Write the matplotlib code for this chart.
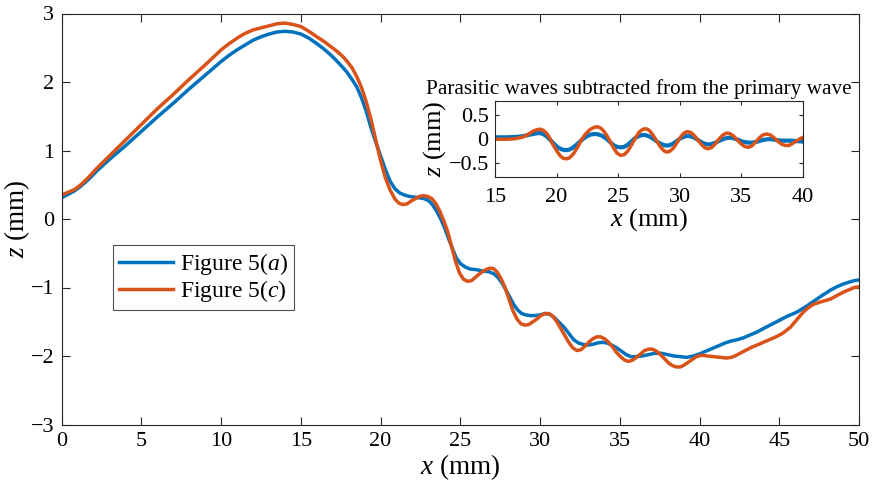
import matplotlib
matplotlib.use("Agg")
import matplotlib.pyplot as plt

plt.rcParams['font.family'] = ['Liberation Serif', 'DejaVu Serif']
plt.rcParams['mathtext.fontset'] = 'custom'
plt.rcParams['mathtext.rm'] = 'Liberation Serif'
plt.rcParams['mathtext.it'] = 'Liberation Serif:italic'
plt.rcParams['axes.unicode_minus'] = True

# ---- main curves (x in mm, z in mm) ----
x_a = [0, 0.4, 0.8, 1.2, 1.65, 2.2, 2.9, 4.0, 5.0, 6.0, 7.0, 8.0, 9.0, 10.0, 10.5, 11.0, 11.5,
       12.0, 12.5, 13.0, 13.5, 14.0, 14.5, 15.0, 15.5, 16.0, 16.4, 16.8, 17.2, 17.6, 17.9, 18.2,
       18.5, 18.8, 19.1, 19.4, 19.7,
       20.0, 20.3, 20.6, 20.9, 21.2, 21.5, 21.8, 22.1, 22.4, 22.7, 23.0, 23.25, 23.5, 23.75, 24.0,
       24.25, 24.5, 24.75, 25.0, 25.3, 25.6, 26.0, 26.4, 26.8, 27.1, 27.35, 27.6, 27.85, 28.1,
       28.35, 28.6, 28.85, 29.1, 29.4, 29.7, 30.0, 30.3, 30.6, 30.9, 31.2, 31.5, 31.8, 32.1, 32.4,
       32.7, 33.0, 33.3, 33.6, 33.9, 34.2, 34.5, 34.8, 35.1, 35.4, 35.7, 36.0, 36.4, 36.8, 37.2,
       37.6, 38.0, 38.4, 38.8, 39.2, 39.6, 40.0, 40.4, 40.8, 41.2, 41.6, 42.0, 42.4, 42.8, 43.2,
       43.6, 44.0, 44.5, 45.0, 45.5, 46.1, 46.6, 47.1, 47.6, 48.2, 48.6, 49.0, 49.4, 49.7, 50.0]
z_a = [0.31, 0.36, 0.41, 0.48, 0.57, 0.70, 0.85, 1.07, 1.28, 1.49, 1.69, 1.90, 2.10, 2.30, 2.39, 2.47, 2.54,
       2.61, 2.66, 2.70, 2.73, 2.74, 2.73, 2.70, 2.64, 2.56, 2.49, 2.41, 2.32, 2.22, 2.14, 2.04,
       1.93, 1.77, 1.57, 1.33, 1.12,
       0.92, 0.72, 0.55, 0.44, 0.38, 0.35, 0.33, 0.32, 0.31, 0.30, 0.27, 0.21, 0.12, 0.01, -0.12,
       -0.28, -0.43, -0.57, -0.65, -0.70, -0.73, -0.74, -0.76, -0.77, -0.80, -0.85, -0.93, -1.03, -1.14,
       -1.25, -1.33, -1.38, -1.40, -1.41, -1.41, -1.40, -1.38, -1.39, -1.44, -1.51, -1.58, -1.67, -1.76, -1.81,
       -1.83, -1.84, -1.83, -1.81, -1.80, -1.81, -1.84, -1.88, -1.93, -1.98, -2.01, -2.01, -2.00, -1.98, -1.96,
       -1.96, -1.98, -2.00, -2.01, -2.02, -2.00, -1.97, -1.93, -1.89, -1.85, -1.81, -1.78, -1.76, -1.73, -1.69,
       -1.65, -1.60, -1.54, -1.48, -1.42, -1.36, -1.29, -1.21, -1.13, -1.04, -0.99, -0.95, -0.92, -0.90, -0.89]

x_c = [0, 0.4, 0.8, 1.2, 1.65, 2.2, 2.9, 4.0, 5.0, 6.0, 7.0, 8.0, 9.0, 10.0, 10.5, 11.0, 11.5,
       12.0, 12.5, 13.0, 13.5, 14.0, 14.5, 15.0, 15.5, 16.0, 16.4, 16.8, 17.2, 17.6, 17.9, 18.2,
       18.5, 18.8, 19.1, 19.4, 19.7,
       20.0, 20.3, 20.6, 20.9, 21.15, 21.4, 21.65, 21.9, 22.2, 22.45, 22.7, 22.95, 23.2, 23.45,
       23.7, 23.95, 24.2, 24.45, 24.7, 24.95, 25.2, 25.45, 25.7, 25.95, 26.2, 26.5, 26.8, 27.05,
       27.3, 27.55, 27.8, 28.05, 28.3, 28.55, 28.8, 29.05, 29.3, 29.55, 29.8, 30.05, 30.3, 30.55,
       30.8, 31.05, 31.3, 31.55, 31.8, 32.05, 32.3, 32.55, 32.8, 33.05, 33.3, 33.55, 33.8, 34.05,
       34.3, 34.55, 34.8, 35.05, 35.3, 35.55, 35.8, 36.05, 36.3, 36.55, 36.8, 37.05, 37.3, 37.55,
       37.8, 38.05, 38.3, 38.55, 38.8, 39.05, 39.3, 39.55, 39.8, 40.1, 40.5, 40.9, 41.3, 41.7,
       42.0, 42.3, 42.7, 43.2, 43.6, 44.0, 44.4, 44.8, 45.2, 45.7, 46.1, 46.5, 46.8, 47.1, 47.6,
       48.2, 48.6, 49.0, 49.4, 49.7, 50.0]
z_c = [0.35, 0.39, 0.43, 0.50, 0.60, 0.74, 0.90, 1.15, 1.38, 1.61, 1.82, 2.04, 2.25, 2.47, 2.56, 2.64, 2.71,
       2.76, 2.79, 2.82, 2.85, 2.86, 2.84, 2.81, 2.74, 2.66, 2.60, 2.53, 2.46, 2.38, 2.30, 2.21,
       2.08, 1.92, 1.71, 1.45, 1.15,
       0.85, 0.60, 0.42, 0.29, 0.23, 0.21, 0.22, 0.26, 0.30, 0.33, 0.34, 0.33, 0.30, 0.23,
       0.12, -0.02, -0.18, -0.40, -0.62, -0.79, -0.88, -0.91, -0.90, -0.85, -0.80, -0.75, -0.72, -0.72,
       -0.77, -0.87, -1.00, -1.17, -1.34, -1.46, -1.53, -1.55, -1.54, -1.50, -1.46, -1.41, -1.38, -1.38,
       -1.42, -1.50, -1.60, -1.70, -1.80, -1.88, -1.92, -1.91, -1.86, -1.80, -1.75, -1.72, -1.72, -1.75,
       -1.80, -1.87, -1.95, -2.01, -2.06, -2.08, -2.06, -2.02, -1.97, -1.92, -1.90, -1.90, -1.93, -1.98,
       -2.04, -2.10, -2.14, -2.16, -2.16, -2.13, -2.09, -2.05, -2.01, -1.99, -2.00, -2.01, -2.02, -2.03,
       -2.02, -1.99, -1.94, -1.88, -1.84, -1.80, -1.76, -1.72, -1.67, -1.58, -1.47, -1.36, -1.30, -1.25, -1.21,
       -1.17, -1.12, -1.07, -1.03, -1.00, -0.99]

# ---- inset: parasitic waves ----
xi_a = [15.0, 16.0, 16.8, 17.4, 17.9, 18.3, 18.6, 18.9, 19.2, 19.5, 19.8, 20.1, 20.4, 20.7, 21.0,
        21.3, 21.6, 21.9, 22.2, 22.5, 22.8, 23.1, 23.4, 23.7, 24.0, 24.3, 24.6, 24.9, 25.2, 25.5,
        25.8, 26.1, 26.4, 26.7, 27.0, 27.3, 27.6, 27.9, 28.2, 28.5, 28.8, 29.1, 29.4, 29.7, 30.0,
        30.3, 30.6, 30.9, 31.2, 31.5, 31.8, 32.1, 32.4, 32.7, 33.0, 33.3, 33.6, 33.9, 34.2, 34.5,
        34.8, 35.1, 35.5, 35.9, 36.3, 36.7, 37.1, 37.5, 37.9, 38.3, 38.7, 39.1, 39.5, 40.0]
zi_a = [0.03, 0.03, 0.04, 0.06, 0.09, 0.11, 0.12, 0.10, 0.05, -0.03, -0.11, -0.18, -0.22, -0.24, -0.23,
        -0.19, -0.13, -0.06, 0.01, 0.06, 0.09, 0.10, 0.09, 0.06, 0.01, -0.06, -0.13, -0.17, -0.18, -0.17,
        -0.12, -0.05, 0.02, 0.06, 0.08, 0.07, 0.04, -0.01, -0.07, -0.11, -0.14, -0.14, -0.11, -0.06, 0.00,
        0.04, 0.06, 0.05, 0.02, -0.03, -0.08, -0.11, -0.12, -0.10, -0.07, -0.03, 0.00, 0.02, 0.02, 0.00,
        -0.03, -0.06, -0.08, -0.08, -0.06, -0.03, -0.01, -0.01, -0.03, -0.04, -0.04, -0.04, -0.05, -0.06]

xi_c = [15.0, 16.0, 16.6, 17.0, 17.4, 17.8, 18.1, 18.4, 18.65, 18.9, 19.2, 19.45, 19.7, 20.0, 20.3,
        20.55, 20.8, 21.05, 21.35, 21.7, 22.0, 22.35, 22.7, 23.05, 23.35, 23.65, 23.95, 24.25, 24.6,
        24.9, 25.2, 25.5, 25.8, 26.1, 26.4, 26.7, 27.0, 27.25, 27.5, 27.8, 28.1, 28.4, 28.7, 28.95,
        29.2, 29.5, 29.8, 30.1, 30.35, 30.6, 30.9, 31.2, 31.5, 31.8, 32.05, 32.3, 32.6, 32.9, 33.2,
        33.5, 33.8, 34.05, 34.35, 34.65, 34.95, 35.25, 35.55, 35.85, 36.15, 36.45, 36.75, 37.05,
        37.35, 37.65, 37.95, 38.25, 38.55, 38.85, 39.15, 39.45, 39.75, 40.0]
zi_c = [-0.01, -0.01, 0.00, 0.02, 0.05, 0.11, 0.16, 0.19, 0.20, 0.18, 0.11, 0.01, -0.12, -0.25, -0.36,
        -0.41, -0.42, -0.40, -0.32, -0.18, -0.03, 0.10, 0.19, 0.24, 0.25, 0.21, 0.12, -0.01, -0.18,
        -0.30, -0.35, -0.33, -0.25, -0.12, 0.02, 0.14, 0.20, 0.21, 0.18, 0.09, -0.04, -0.16, -0.25, -0.28,
        -0.26, -0.19, -0.07, 0.05, 0.12, 0.15, 0.13, 0.06, -0.04, -0.13, -0.19, -0.21, -0.18, -0.10, 0.00,
        0.08, 0.12, 0.11, 0.06, -0.02, -0.10, -0.16, -0.18, -0.15, -0.07, 0.02, 0.08, 0.10,
        0.08, 0.02, -0.05, -0.11, -0.14, -0.14, -0.10, -0.05, 0.00, 0.03]

series_labels = [r'Figure 5($a$)', r'Figure 5($c$)']
main_xticks = [0, 5, 10, 15, 20, 25, 30, 35, 40, 45, 50]
main_yticks = [-3, -2, -1, 0, 1, 2, 3]
inset_xticks = [15, 20, 25, 30, 35, 40]
inset_yticks = [-0.5, 0, 0.5]
inset_yticklabels = ['\u22120.5', '0', '0.5']
inset_title = 'Parasitic waves subtracted from the primary wave'

BLUE = '#0072BD'
ORANGE = '#D95319'
AX = '#262626'

W, H = 873, 488
fig = plt.figure(figsize=(W / 100, H / 100), dpi=100)

def style(ax, ticklen, fs, xpad, ypad):
    for s in ax.spines.values():
        s.set_color(AX)
        s.set_linewidth(0.8)
    ax.tick_params(direction='in', top=True, right=True, length=ticklen, width=0.8,
                   color=AX, labelcolor='black', labelsize=fs)
    ax.tick_params(axis='x', pad=xpad)
    ax.tick_params(axis='y', pad=ypad)

# main axes
ax = fig.add_axes([61.7 / W, 1 - 424.5 / H, (859 - 61.7) / W, 411 / H])
ax.plot(x_a, z_a, color=BLUE, lw=2.5, label=series_labels[0], solid_joinstyle='round')
ax.plot(x_c, z_c, color=ORANGE, lw=2.5, label=series_labels[1], solid_joinstyle='round')
ax.set_xlim(0, 50)
ax.set_ylim(-3, 3)
ax.set_xticks(main_xticks)
ax.set_yticks(main_yticks)
style(ax, 5.5, 16, 5.5, 5.5)
ax.set_xlabel(r'$x$ (mm)', fontsize=19.5, labelpad=1)
ax.set_ylabel(r'$z$ (mm)', fontsize=19.5, labelpad=-1)
leg = ax.legend(loc='upper left', bbox_to_anchor=(113 / W, 1 - 245 / H),
                bbox_transform=fig.transFigure, fontsize=17, frameon=True, fancybox=False,
                handlelength=2.3, handletextpad=0.3, borderpad=0.25, labelspacing=0.05,
                borderaxespad=0)
leg.get_frame().set_edgecolor(AX)
leg.get_frame().set_linewidth(0.8)

# inset axes
axi = fig.add_axes([495 / W, 1 - 177 / H, (803 - 495) / W, 76.5 / H])
axi.plot(xi_a, zi_a, color=BLUE, lw=3.0, solid_joinstyle='round')
axi.plot(xi_c, zi_c, color=ORANGE, lw=2.5, solid_joinstyle='round')
axi.set_xlim(15, 40)
axi.set_ylim(-0.8, 0.8)
axi.set_xticks(inset_xticks)
axi.set_yticks(inset_yticks)
axi.set_yticklabels(inset_yticklabels)
style(axi, 3, 16, 8, 4.5)
axi.set_xlabel(r'$x$ (mm)', fontsize=19, labelpad=-1)
axi.set_ylabel(r'$z$ (mm)', fontsize=19, labelpad=0)
axi.set_title(inset_title, fontsize=15.3, pad=5, x=0.466)

fig.savefig('out.png', dpi=100)
